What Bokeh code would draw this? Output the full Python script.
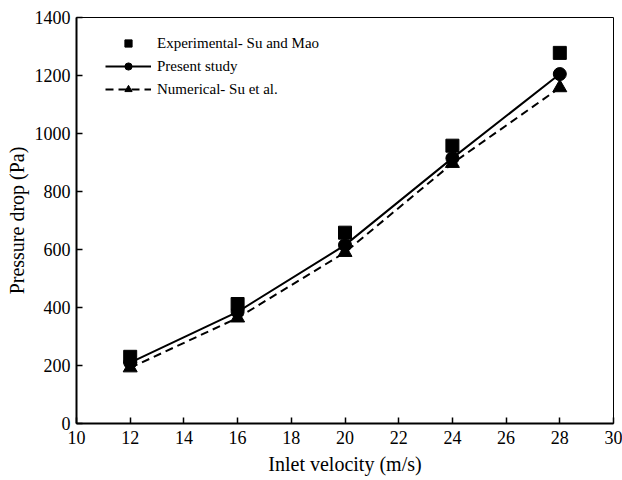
from bokeh.plotting import figure
from bokeh.models import Range1d, Legend, LegendItem, FixedTicker
from bokeh.embed import file_html
from bokeh.resources import INLINE

velocity = [12, 16, 20, 24, 28]
experimental = [230, 412, 658, 958, 1278]
present = [210, 385, 615, 915, 1205]
numerical = [192, 364, 590, 897, 1158]

x_ticks = [10, 12, 14, 16, 18, 20, 22, 24, 26, 28, 30]
y_ticks = [0, 200, 400, 600, 800, 1000, 1200, 1400]

FONT = "Liberation Serif"

p = figure(width=622, height=480, output_backend="svg", toolbar_location=None,
           x_range=Range1d(10, 30), y_range=Range1d(0, 1400),
           min_border_left=76, min_border_right=9, min_border_top=17, min_border_bottom=57)
p.grid.visible = False
p.outline_line_color = "black"
p.outline_line_width = 1
p.background_fill_color = "white"
p.border_fill_color = "white"

for ax in (p.xaxis[0], p.yaxis[0]):
    ax.axis_line_width = 2
    ax.axis_line_color = "black"
    ax.major_tick_in = 6
    ax.major_tick_out = 0
    ax.major_tick_line_width = 1.5
    ax.minor_tick_line_color = None
    ax.major_label_text_font = FONT
    ax.major_label_text_font_size = "18px"
    ax.major_label_text_color = "black"
    ax.axis_label_text_font = FONT
    ax.axis_label_text_font_size = "20px"
    ax.axis_label_text_font_style = "normal"
    ax.axis_label_text_color = "black"

p.xaxis.ticker = FixedTicker(ticks=x_ticks)
p.yaxis.ticker = FixedTicker(ticks=y_ticks)
p.xaxis.axis_label = "Inlet velocity (m/s)"
p.yaxis.axis_label = "Pressure drop (Pa)"
p.xaxis.major_label_standoff = 7
p.yaxis.major_label_standoff = 6
p.xaxis.axis_label_standoff = 6
p.yaxis.axis_label_standoff = 4

r_exp = p.scatter(velocity, experimental, marker="square", size=13, color="black")
r_pl = p.line(velocity, present, line_color="black", line_width=2)
r_pc = p.scatter(velocity, present, marker="circle", size=13, color="black")
r_nl = p.line(velocity, numerical, line_color="black", line_width=2, line_dash="8 5")
r_nt = p.scatter(velocity, numerical, marker="triangle", size=14, color="black")

legend = Legend(items=[
    LegendItem(label="Experimental- Su and Mao", renderers=[r_exp]),
    LegendItem(label="Present study", renderers=[r_pl, r_pc]),
    LegendItem(label="Numerical- Su et al.", renderers=[r_nl, r_nt]),
], location=(29, 325))
legend.border_line_color = None
legend.background_fill_alpha = 0
legend.label_text_font = FONT
legend.label_text_font_size = "15px"
legend.label_text_color = "black"
legend.glyph_width = 46
legend.glyph_height = 18
legend.spacing = 5
legend.label_standoff = 6
legend.margin = 0
legend.padding = 0
p.add_layout(legend)

open("out.html", "w").write(file_html(p, INLINE))
